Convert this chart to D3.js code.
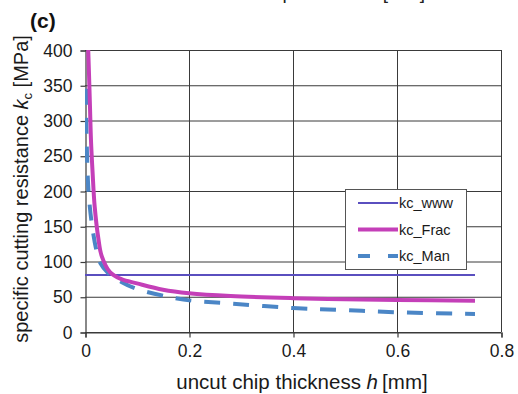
<!DOCTYPE html>
<html>
<head>
<meta charset="utf-8">
<script src="https://cdn.jsdelivr.net/npm/d3@7"></script>
<style>
  html, body { margin: 0; padding: 0; background: #fff; }
  svg { display: block; font-family: "Liberation Sans", Arial, Helvetica, sans-serif; }
</style>
</head>
<body>
<svg id="chart" width="518" height="394"></svg>
<script>
// ---- data ----
const xTicks = [0, 0.2, 0.4, 0.6, 0.8];
const yTicks = [0, 50, 100, 150, 200, 250, 300, 350, 400];
const seriesNames = ["kc_www", "kc_Frac", "kc_Man"];

const wwwH = [0, 0.75];
const wwwV = [81, 81];

const fracH = [0.0062, 0.0077, 0.0096, 0.0115, 0.0147, 0.0186, 0.026, 0.032, 0.048, 0.07, 0.1, 0.15, 0.2, 0.28, 0.4, 0.5, 0.6, 0.75];
const fracV = [400, 366, 319, 272, 225, 178, 131, 108, 85, 75, 69, 60, 55, 51, 48, 46.5, 45.5, 44.5];

const manH = [0.0019, 0.0025, 0.0033, 0.0044, 0.007, 0.0128, 0.0225, 0.03, 0.044, 0.07, 0.1, 0.16, 0.21, 0.27, 0.4, 0.5, 0.6, 0.75];
const manV = [345, 300, 270, 238, 197, 155, 114, 97, 84, 71, 61, 50, 44, 41, 34, 31, 28, 25.5];

// ---- layout ----
const svg = d3.select("#chart");
const mLeft = 85, mRight = 501, mTop = 50, mBottom = 332;
const x = d3.scaleLinear().domain([0, 0.8]).range([mLeft, mRight]);
const y = d3.scaleLinear().domain([0, 400]).range([mBottom, mTop]);
const gridColor = "#3a3a3a";

// clip
svg.append("defs").append("clipPath").attr("id", "plotclip")
  .append("rect").attr("x", mLeft).attr("y", mTop - 2).attr("width", mRight - mLeft).attr("height", mBottom - mTop + 2);

// gridlines
const grid = svg.append("g");
grid.selectAll("line.h").data(yTicks).join("line")
  .attr("x1", mLeft).attr("x2", mRight)
  .attr("y1", d => y(d) + 0.5).attr("y2", d => y(d) + 0.5)
  .attr("stroke", gridColor).attr("stroke-width", 1);
grid.selectAll("line.v").data(xTicks.slice(1)).join("line")
  .attr("x1", d => x(d) + 0.5).attr("x2", d => x(d) + 0.5)
  .attr("y1", mTop).attr("y2", mBottom)
  .attr("stroke", gridColor).attr("stroke-width", 1);

// axes
const yAxis = d3.axisLeft(y).tickValues(yTicks).tickSize(5).tickPadding(8);
const gy = svg.append("g").attr("transform", `translate(${mLeft + 0.5},0.5)`).call(yAxis);
const xAxis = d3.axisBottom(x).tickValues(xTicks).tickSize(5).tickPadding(7).tickFormat(d => d === 0 ? "0" : d3.format(".1f")(d));
const gx = svg.append("g").attr("transform", `translate(0.5,${mBottom + 0.5})`).call(xAxis);
[gx, gy].forEach(g => {
  g.select(".domain").attr("stroke", gridColor).attr("stroke-width", 1.2);
  g.selectAll(".tick line").attr("stroke", gridColor).attr("stroke-width", 1.2);
  g.selectAll(".tick text").attr("fill", "#1a1a1a").style("font-size", "17.5px")
    .style("font-family", '"Liberation Sans", Arial, sans-serif');
});

// series
const line = d3.line().x(d => x(d[0])).y(d => y(d[1])).curve(d3.curveCatmullRom.alpha(0.5));
const plot = svg.append("g").attr("clip-path", "url(#plotclip)");

const styles = {
  kc_www: { color: "#5a4fbf", width: 2, dash: null },
  kc_Frac: { color: "#c43fb8", width: 4, dash: null },
  kc_Man: { color: "#4b86c6", width: 4, dash: "16,13" }
};
const seriesData = {
  kc_www: d3.zip(wwwH, wwwV),
  kc_Frac: d3.zip(fracH, fracV),
  kc_Man: d3.zip(manH, manV)
};
["kc_www", "kc_Man", "kc_Frac"].forEach(name => {
  const s = styles[name];
  plot.append("path").datum(seriesData[name])
    .attr("d", line)
    .attr("fill", "none")
    .attr("stroke", s.color)
    .attr("stroke-width", s.width)
    .attr("stroke-dasharray", s.dash)
    .attr("stroke-linecap", "butt");
});

// legend
const lg = svg.append("g").attr("transform", "translate(345,189)");
lg.append("rect").attr("x", 0.5).attr("y", 0.5).attr("width", 121).attr("height", 80)
  .attr("fill", "#fff").attr("stroke", "#555").attr("stroke-width", 1);
seriesNames.forEach((name, i) => {
  const s = styles[name];
  const yy = 14 + i * 26.5;
  lg.append("line").attr("x1", 13).attr("x2", 53).attr("y1", yy).attr("y2", yy)
    .attr("stroke", s.color).attr("stroke-width", s.width)
    .attr("stroke-dasharray", s.dash ? "12,18" : null);
  lg.append("text").attr("x", 54).attr("y", yy).attr("dy", "0.35em")
    .attr("fill", "#1a1a1a").style("font-size", "14.5px").text(name);
});

// axis titles
const xt = svg.append("text").attr("x", 302).attr("y", 389).attr("text-anchor", "middle")
  .attr("fill", "#1a1a1a").style("font-size", "20.5px");
xt.append("tspan").text("uncut chip thickness ");
xt.append("tspan").style("font-style", "italic").text("h");
xt.append("tspan").text("\u2009[mm]");

const yt = svg.append("text").attr("transform", "translate(28,189) rotate(-90)")
  .attr("text-anchor", "middle").attr("fill", "#1a1a1a").style("font-size", "20px");
yt.append("tspan").text("specific cutting resistance ");
yt.append("tspan").style("font-style", "italic").text("k");
yt.append("tspan").attr("dy", 4).style("font-size", "13px").text("c");
yt.append("tspan").attr("dy", -4).text(" [MPa]");

// panel label
svg.append("text").attr("x", 30).attr("y", 28).attr("fill", "#111")
  .style("font-size", "21px").style("font-weight", "bold").text("(c)");

// cut-off title from panel above
svg.append("text").attr("x", 425).attr("y", -1).attr("text-anchor", "end")
  .attr("fill", "#222").style("font-size", "19px").text("Uncut chip thickness [mm]");
</script>
</body>
</html>
